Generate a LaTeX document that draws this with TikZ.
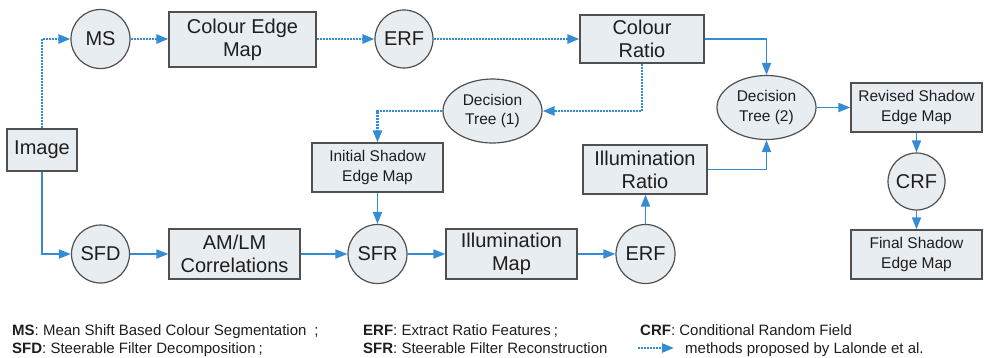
\documentclass[tikz,border=0pt]{standalone}
\usepackage{fontspec}
\setmainfont{Liberation Sans}
\usetikzlibrary{arrows.meta,shapes.geometric}
\definecolor{flow}{RGB}{52,140,212}
\definecolor{boxfill}{RGB}{232,237,242}
\definecolor{boxline}{RGB}{80,80,80}
\definecolor{ink}{RGB}{30,30,30}

\begin{document}
\begin{tikzpicture}[x=1pt,y=-1pt,
  blk/.style={draw=boxline, fill=boxfill, line width=1.2pt, inner sep=0pt, align=center, text=ink},
  bigtxt/.style={font=\fontsize{20}{23}\selectfont},
  smalltxt/.style={font=\fontsize{15.5}{19.5}\selectfont},
  box/.style={blk, rectangle},
  disc/.style={blk, circle, bigtxt},
  oval/.style={blk, ellipse, smalltxt, minimum width=99pt, minimum height=64pt},
  solidflow/.style={draw=flow, line width=1.7pt, -{Triangle[length=12pt,width=9pt]}},
  dotflow/.style={draw=flow, line width=2.6pt, dash pattern=on 2pt off 1pt, -{Triangle[length=12pt,width=9pt]}},
  legend/.style={anchor=base west, inner sep=0pt, text=ink, font=\fontsize{15}{19}\selectfont}
]
\useasboundingbox (0,0) rectangle (984,357);

% processing blocks
\node[box, bigtxt, minimum width=70pt, minimum height=42pt] (img) at (42,150) {Image};
\node[box, bigtxt, minimum width=147pt, minimum height=55pt] (cem) at (242.5,39.5) {Colour Edge\\Map};
\node[box, bigtxt, minimum width=124pt, minimum height=48pt] (cr) at (642,39) {Colour\\Ratio};
\node[box, smalltxt, minimum width=131pt, minimum height=49pt] (ise) at (377.5,167.5) {Initial Shadow\\Edge Map};
\node[box, bigtxt, minimum width=124pt, minimum height=49pt] (ir) at (645,169.5) {Illumination\\Ratio};
\node[box, smalltxt, minimum width=131pt, minimum height=49pt] (rse) at (916.5,107.5) {Revised Shadow\\Edge Map};
\node[box, smalltxt, minimum width=131pt, minimum height=49pt] (fse) at (916.5,254.5) {Final Shadow\\Edge Map};
\node[box, bigtxt, minimum width=131pt, minimum height=50pt] (am) at (234.5,254) {AM/LM\\Correlations};
\node[box, bigtxt, minimum width=131pt, minimum height=50pt] (im) at (511.5,254) {Illumination\\Map};

% operators
\node[disc, minimum size=59pt] (ms) at (100.5,39) {MS};
\node[disc, minimum size=58pt] (erfa) at (404,39) {ERF};
\node[disc, minimum size=58pt] (sfd) at (100.5,254) {SFD};
\node[disc, minimum size=59pt] (sfr) at (377.5,254) {SFR};
\node[disc, minimum size=59pt] (erfb) at (645.5,254) {ERF};
\node[disc, minimum size=57pt] (crf) at (916.5,181.5) {CRF};

% classifiers
\node[oval] (dta) at (492.5,111) {Decision\\Tree (1)};
\node[oval] (dtb) at (766.5,107.5) {Decision\\Tree (2)};

% Lalonde et al. branch (dotted)
\draw[dotflow] (img.north) |- (ms.west);
\draw[dotflow] (ms.east) -- (ms.east -| cem.west);
\draw[dotflow] (cem.east |- erfa) -- (erfa.west);
\draw[dotflow] (erfa.east) -- (erfa.east -| cr.west);
\draw[dotflow] (cr.south) |- (dta.east);
\draw[dotflow] (dta.west) -| (ise.north);

% proposed branch (solid)
\draw[solidflow] (img.south) |- (sfd.west);
\draw[solidflow] (sfd.east) -- (sfd.east -| am.west);
\draw[solidflow] (am.east |- sfr) -- (sfr.west);
\draw[solidflow] (ise.south) -- (sfr.north);
\draw[solidflow] (sfr.east) -- (sfr.east -| im.west);
\draw[solidflow] (im.east |- erfb) -- (erfb.west);
\draw[solidflow] (erfb.north) -- (erfb.north |- ir.south);
\draw[solidflow] (cr.east) -| (dtb.north);
\draw[solidflow] (ir.east) -| (dtb.south);
\draw[solidflow] (dtb.east) -- (dtb.east -| rse.west);
\draw[solidflow] (rse.south) -- (crf.north);
\draw[solidflow] (crf.south) -- (fse.north);

% legend
\node[legend] (l1) at (12,335) {\textbf{MS}: Mean Shift Based Colour Segmentation\hspace{8pt};};
\node[legend] (l2) at (12,353) {\textbf{SFD}: Steerable Filter Decomposition\hspace{3pt};};
\node[legend] (l3) at (363,335) {\textbf{ERF}: Extract Ratio Features\hspace{3pt};};
\node[legend] (l4) at (363,353) {\textbf{SFR}: Steerable Filter Reconstruction};
\node[legend] (l5) at (640,335) {\textbf{CRF}: Conditional Random Field};
\coordinate (lga) at (638,348);
\coordinate (lgb) at (674,348);
\draw[dotflow] (lga) -- (lgb);
\node[legend] (l6) at (685,353) {methods proposed by Lalonde et al.};
\end{tikzpicture}
\end{document}
